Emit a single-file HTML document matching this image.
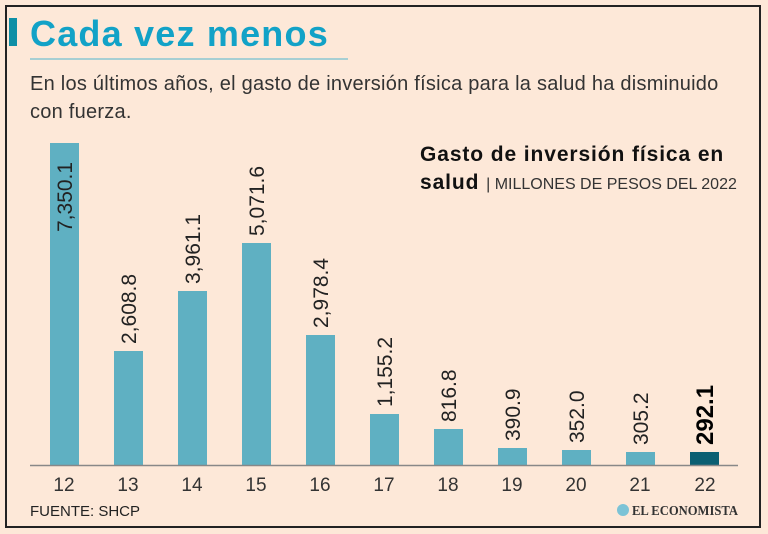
<!DOCTYPE html>
<html><head><meta charset="utf-8"><style>
body{margin:0;width:768px;height:534px;background:#fde8d8;font-family:"Liberation Sans",sans-serif;overflow:hidden;position:relative}
.frame{position:absolute;left:5px;top:5px;width:752px;height:519px;border:2px solid #222;box-sizing:content-box}
.t{position:absolute}
</style></head><body>
<div class="frame"></div>
<div class="t" style="left:9px;top:18px;width:8px;height:28px;background:#0e8fa6"></div>
<div class="t" style="left:30px;top:13px;font-size:36px;font-weight:bold;color:#12a2c7;letter-spacing:1.2px">Cada vez menos</div>
<div class="t" style="left:30px;top:58px;width:318px;height:2px;background:#a7cfd3"></div>
<div class="t" style="left:30px;top:70px;font-size:20px;color:#333;line-height:28px;width:730px;letter-spacing:0.25px">En los últimos años, el gasto de inversión física para la salud ha disminuido<br>con fuerza.</div>
<div class="t" style="left:420px;top:141px;font-size:21px;font-weight:bold;color:#111;line-height:28px;letter-spacing:0.9px">Gasto de inversión física en<br>salud <span style="font-weight:normal;font-size:16px;color:#333;letter-spacing:0">| MILLONES DE PESOS DEL 2022</span></div>
<svg class="t" style="left:0;top:0" width="768" height="534">
<g fill="#5fb0c2">
<rect x="50" y="143" width="29" height="322"/>
<rect x="114" y="351" width="29" height="114"/>
<rect x="178" y="291" width="29" height="174"/>
<rect x="242" y="243" width="29" height="222"/>
<rect x="306" y="335" width="29" height="130"/>
<rect x="370" y="414" width="29" height="51"/>
<rect x="434" y="429" width="29" height="36"/>
<rect x="498" y="448" width="29" height="17"/>
<rect x="562" y="450" width="29" height="15"/>
<rect x="626" y="452" width="29" height="13"/>
</g>
<rect x="690" y="452" width="29" height="13" fill="#0b5f72"/>
<line x1="30" y1="465.5" x2="738" y2="465.5" stroke="#888" stroke-width="1.5"/>
<g font-size="21" fill="#222" font-family="Liberation Sans,sans-serif">
<text transform="translate(72,232) rotate(-90)">7,350.1</text>
<text transform="translate(136,344) rotate(-90)">2,608.8</text>
<text transform="translate(200,284) rotate(-90)">3,961.1</text>
<text transform="translate(264,236) rotate(-90)">5,071.6</text>
<text transform="translate(328,328) rotate(-90)">2,978.4</text>
<text transform="translate(392,407) rotate(-90)">1,155.2</text>
<text transform="translate(456,422) rotate(-90)">816.8</text>
<text transform="translate(520,441) rotate(-90)">390.9</text>
<text transform="translate(584,443) rotate(-90)">352.0</text>
<text transform="translate(648,445) rotate(-90)">305.2</text>
<text transform="translate(713,445) rotate(-90)" font-weight="bold" font-size="24" fill="#000">292.1</text>
</g>
<g font-size="19" fill="#333" text-anchor="middle" font-family="Liberation Sans,sans-serif">
<text x="64" y="491">12</text><text x="128" y="491">13</text><text x="192" y="491">14</text><text x="256" y="491">15</text><text x="320" y="491">16</text><text x="384" y="491">17</text><text x="448" y="491">18</text><text x="512" y="491">19</text><text x="576" y="491">20</text><text x="640" y="491">21</text><text x="705" y="491">22</text>
</g>
<text x="30" y="516" font-size="15" fill="#222" font-family="Liberation Sans,sans-serif">FUENTE: SHCP</text>
<circle cx="623" cy="510" r="6" fill="#7cc3d6"/>
<text x="632" y="515" font-size="14" font-weight="bold" fill="#333" font-family="Liberation Serif,serif" textLength="106" lengthAdjust="spacingAndGlyphs">EL ECONOMISTA</text>
</svg>
</body></html>
